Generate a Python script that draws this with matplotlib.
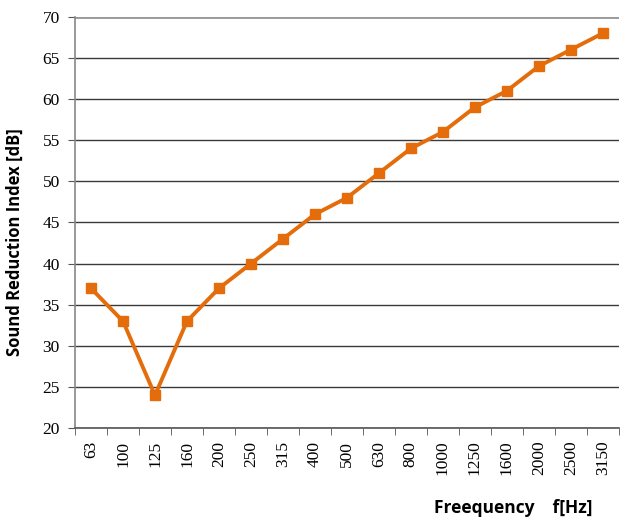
import matplotlib.pyplot as plt

plt.rcParams['font.serif'] = ['Liberation Serif', 'DejaVu Serif']

freqs = ['63', '100', '125', '160', '200', '250', '315', '400', '500', '630',
         '800', '1000', '1250', '1600', '2000', '2500', '3150']
sri = [37, 33, 24, 33, 37, 40, 43, 46, 48, 51, 54, 56, 59, 61, 64, 66, 68]

fig = plt.figure(figsize=(6.2, 5.26), dpi=100)
ax = fig.add_axes([0.121, 0.186, 0.877, 0.782])

x = list(range(len(freqs)))
ax.plot(x, sri, color='#E46C0A', linewidth=2.8, marker='s', markersize=7.5,
        zorder=3, clip_on=False)

ax.set_xlim(-0.5, len(freqs) - 0.5)
ax.set_ylim(20, 70)
ax.set_yticks(range(20, 71, 5))
ax.grid(axis='y', color='#3a3a3a', linewidth=1)
ax.set_axisbelow(True)

# category labels in the middle, tick marks on the boundaries
ax.set_xticks(x)
ax.set_xticklabels(freqs, rotation=90, family='serif', fontsize=12.5)
ax.set_xticks([i - 0.5 for i in x] + [len(freqs) - 0.5], minor=True)
ax.tick_params(axis='x', which='major', length=0, pad=9)
ax.tick_params(axis='x', which='minor', length=5, color='#555555', direction='out')
ax.tick_params(axis='y', length=5, color='#555555', direction='out', pad=6)
ax.set_yticklabels([str(v) for v in range(20, 71, 5)], family='serif', fontsize=12.5)

ax.spines['top'].set_visible(False)
ax.spines['right'].set_visible(False)
ax.spines['left'].set_color('#888888')
ax.spines['bottom'].set_color('#555555')
ax.spines['left'].set_linewidth(1.2)
ax.spines['bottom'].set_linewidth(1.2)
ax.axhline(70, color='#999999', linewidth=2, zorder=2)

ax.set_ylabel('Sound Reduction Index [dB]', family='Open Sans', fontweight='bold',
              fontsize=12)
ax.yaxis.set_label_coords(-0.095, 0.452)
fig.text(0.955, 0.018, 'Freequency    f[Hz]', family='Open Sans', fontweight='bold',
         fontsize=12.5, ha='right', va='bottom')

fig.savefig('out.png', dpi=100)
